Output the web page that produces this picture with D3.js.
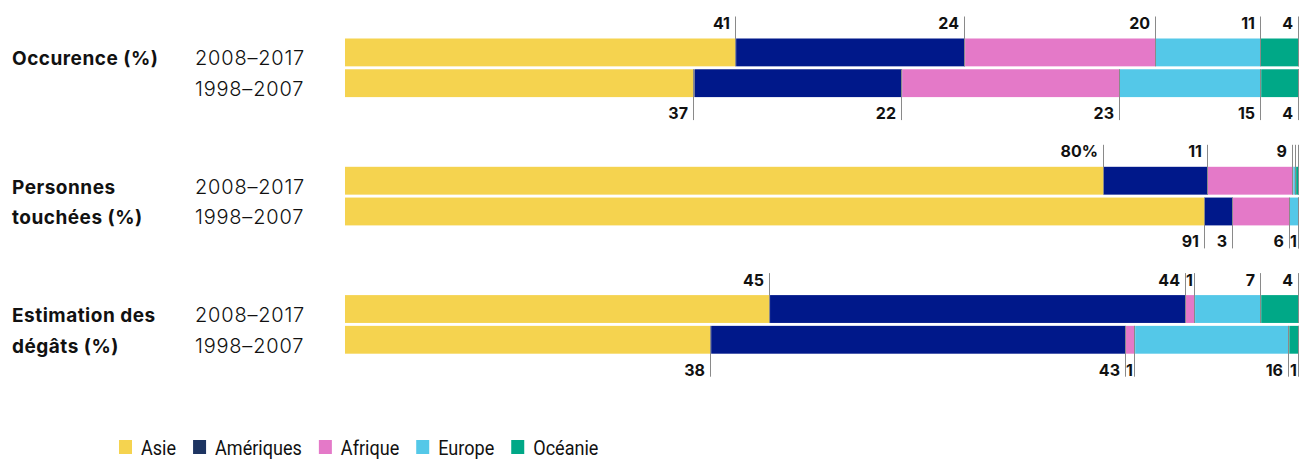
<!DOCTYPE html>
<html>
<head>
<meta charset="utf-8">
<script src="https://cdn.jsdelivr.net/npm/d3@7"></script>
<style>
  body { margin: 0; background: #fff; }
  svg { display: block; }
</style>
</head>
<body>
<div id="chart"></div>
<script>
var regions = ['Asie', 'Amériques', 'Afrique', 'Europe', 'Océanie'];
var periods = ['2008–2017', '1998–2007'];
var groups = [['Occurence (%)'], ['Personnes', 'touchées (%)'], ['Estimation des', 'dégâts (%)']];

// values per group, one array per period (same order as periods)
var occurence = [[41, 24, 20, 11, 4], [37, 22, 23, 15, 4]];
var personnes = [[80, 11, 9, 0.3, 0.3], [91, 3, 6, 1, 0]];
var degats = [[45, 44, 1, 7, 4], [38, 43, 1, 16, 1]];
var values = [occurence, personnes, degats];

var colors = ['#f5d34f', '#00188a', '#e479c8', '#54c8e8', '#00a887'];
var legendColors = ['#f5d34f', '#1d3461', '#e479c8', '#54c8e8', '#00a887'];

var w = 1302;
var h = 459;

var svg = d3.select('#chart')
  .append('svg')
  .attr('width', w)
  .attr('height', h);

var yGroup = d3.scaleBand()
  .domain(d3.range(groups.length))
  .range([38.5, 38.5 + 128.3 * 3]);

var yRow = d3.scaleBand()
  .domain(d3.range(periods.length))
  .range([0, 58.6])
  .paddingInner(0.095);

var barH = yRow.bandwidth();

groups.forEach(function(lines, gi) {
  var g = svg.append('g')
    .attr('transform', 'translate(0,' + yGroup(gi) + ')');

  // group title, one line per row
  g.selectAll('text.title')
    .data(lines)
    .enter()
    .append('text')
    .attr('class', 'title')
    .attr('x', 12)
    .attr('y', function(d, i) { return yRow(i) + barH - 1; })
    .attr('font-family', 'Inter, sans-serif')
    .attr('font-weight', 700)
    .attr('font-size', '19px')
    .attr('letter-spacing', '0.5px')
    .attr('fill', '#111')
    .text(function(d) { return d; });

  periods.forEach(function(p, ri) {
    var row = values[gi][ri];
    var total = d3.sum(row);
    var x = d3.scaleLinear().domain([0, total]).range([345, 1299]);
    var y0 = yRow(ri);
    var top = ri === 0;

    g.append('text')
      .attr('x', 195)
      .attr('y', y0 + barH - 1)
      .attr('font-family', 'Inter, sans-serif')
      .attr('font-weight', 300)
      .attr('font-size', '20px')
      .attr('letter-spacing', '0.8px')
      .attr('fill', '#111')
      .text(p);

    var segs = [];
    var acc = 0;
    row.forEach(function(v, i) {
      segs.push({v: v, start: acc, end: acc + v, i: i});
      acc += v;
    });

    g.selectAll('rect.r' + ri)
      .data(segs)
      .enter()
      .append('rect')
      .attr('class', 'r' + ri)
      .attr('x', function(d) { return x(d.start); })
      .attr('y', y0)
      .attr('width', function(d) { return x(d.end) - x(d.start); })
      .attr('height', barH)
      .attr('fill', function(d) { return colors[d.i]; });

    // tick lines at each segment end
    g.selectAll('line.l' + ri)
      .data(segs)
      .enter()
      .append('line')
      .attr('class', 'l' + ri)
      .attr('x1', function(d) { return Math.round(x(d.end)) - 0.5; })
      .attr('x2', function(d) { return Math.round(x(d.end)) - 0.5; })
      .attr('y1', top ? y0 - 22 : y0)
      .attr('y2', top ? y0 + barH : y0 + barH + 23)
      .attr('stroke', '#8a8a8a')
      .attr('stroke-width', 1);

    g.selectAll('text.v' + ri)
      .data(segs.filter(function(d) { return d.v >= 1; }))
      .enter()
      .append('text')
      .attr('class', 'v' + ri)
      .attr('x', function(d) { return Math.round(x(d.end)) - (d.v === 1 ? 2 : 6); })
      .attr('y', top ? y0 - 9.5 : y0 + barH + 22)
      .attr('text-anchor', 'end')
      .attr('font-family', 'Inter, sans-serif')
      .attr('font-weight', 700)
      .attr('font-size', '16px')
      .attr('fill', '#111')
      .text(function(d) {
        var s = String(d.v);
        if (gi === 1 && ri === 0 && d.i === 0) s += '%';
        return s;
      });
  });
});

// legend, text squeezed horizontally to look condensed
var lx = 119;
var legend = svg.append('g');
regions.forEach(function(r, i) {
  legend.append('rect')
    .attr('x', lx)
    .attr('y', 440)
    .attr('width', 13)
    .attr('height', 14)
    .attr('fill', legendColors[i]);
  var t = legend.append('text')
    .attr('transform', 'translate(' + (lx + 22) + ',455) scale(0.86,1)')
    .attr('font-family', 'Roboto, sans-serif')
    .attr('font-size', '21px')
    .attr('fill', '#111')
    .text(r);
  lx += 22 + t.node().getComputedTextLength() * 0.86 + 17;
});
</script>
</body>
</html>
